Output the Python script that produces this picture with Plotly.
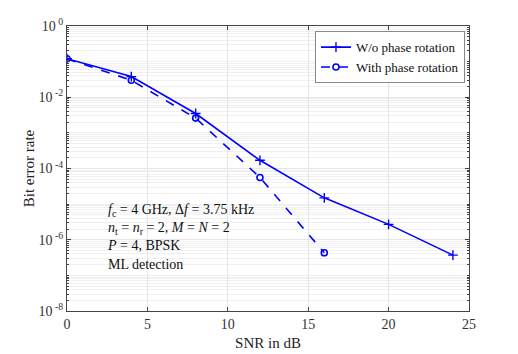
import plotly.graph_objects as go

snr_wo = [0, 4, 8, 12, 16, 20, 24]
ber_wo = [0.121, 0.038, 3.5e-3, 1.7e-4, 1.5e-5, 2.7e-6, 3.7e-7]
snr_with = [0, 4, 8, 12, 16]
ber_with = [0.12, 0.030, 2.6e-3, 5.6e-5, 4.3e-7]

y_exps = [0, -2, -4, -6, -8]
x_ticks = [0, 5, 10, 15, 20, 25]

FONT = "Liberation Serif"
BLUE = "#0000ff"

fig = go.Figure()
fig.add_trace(go.Scatter(
    x=snr_wo, y=ber_wo, mode="lines+markers", name="W/o phase rotation",
    line=dict(color=BLUE, width=1.6),
    marker=dict(symbol="cross-thin-open", size=7, line=dict(color=BLUE, width=1.4)),
))
fig.add_trace(go.Scatter(
    x=snr_with, y=ber_with, mode="lines+markers", name="With phase rotation",
    line=dict(color=BLUE, width=1.6, dash="dash"),
    marker=dict(symbol="circle-open", size=6, line=dict(color=BLUE, width=1.6)),
))

minor_vals = [m * 10.0 ** k for k in range(-8, 0) for m in range(2, 10)]
decades = [10.0 ** k for k in range(-8, 1)]

fig.update_xaxes(
    range=[0, 25], tickvals=x_ticks, ticks="inside", ticklen=4,
    showline=True, mirror="ticks", linecolor="#444", linewidth=1,
    showgrid=True, gridcolor="#e6e6e6", gridwidth=1, zeroline=False,
    automargin=False,
    tickfont=dict(family=FONT, size=14, color="#333"),
    title=dict(text="SNR in dB", font=dict(family=FONT, size=15, color="#222"), standoff=6),
)
fig.update_yaxes(
    type="log", range=[-8, 0],
    tickvals=[10.0 ** e for e in y_exps],
    ticktext=[f"10<sup> {e}</sup>" for e in y_exps],
    ticks="inside", ticklen=4,
    showline=True, mirror="ticks", linecolor="#444", linewidth=1,
    showgrid=True, gridcolor="#e6e6e6", gridwidth=1,
    automargin=False,
    minor=dict(tickvals=minor_vals + decades, ticks="inside", ticklen=2,
               showgrid=True, gridcolor="#f0f0f0", gridwidth=1),
    tickfont=dict(family=FONT, size=14, color="#333"),
    title=dict(text="Bit error rate", font=dict(family=FONT, size=15, color="#222"), standoff=0),
)

info = ("<i>f</i><sub>c</sub> = 4 GHz, Δ<i>f</i> = 3.75 kHz<br>"
        "<i>n</i><sub>t</sub> = <i>n</i><sub>r</sub> = 2, <i>M</i> = <i>N</i> = 2<br>"
        "<i>P</i> = 4, BPSK<br>"
        "ML detection")
fig.add_annotation(
    text=info, xref="x", yref="paper", x=2.35, y=0.13, xanchor="left", yanchor="bottom",
    align="left", showarrow=False, font=dict(family=FONT, size=14, color="#111"),
)

# the page body adds an 8px offset at top/left, so shrink the figure to fit the window
fig.update_layout(
    width=510, height=346,
    margin=dict(l=59, r=49, t=18, b=43),
    paper_bgcolor="white", plot_bgcolor="white",
    showlegend=True,
    legend=dict(
        x=0.99, y=0.982, xanchor="right", yanchor="top",
        bgcolor="white", bordercolor="#888", borderwidth=1,
        font=dict(family=FONT, size=13, color="#111"),
        tracegroupgap=0, itemwidth=30,
    ),
)

fig.write_html("out.html")
